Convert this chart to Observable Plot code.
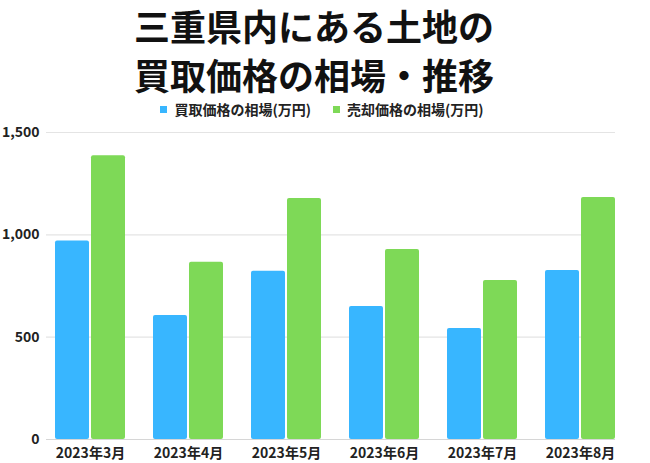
<!DOCTYPE html>
<html>
<head>
<meta charset="utf-8">
<script src="https://cdn.jsdelivr.net/npm/d3@7"></script>
<script src="https://cdn.jsdelivr.net/npm/@observablehq/plot@0.6"></script>
<style>
  body { margin: 0; background: #fff; font-family: "Noto Sans CJK JP", "Noto Sans", sans-serif; }
  #wrap { width: 650px; position: relative; padding-top: 118px; }
  #title { position: absolute; left: 0; top: 1px; width: 650px; padding-right: 22px; box-sizing: border-box; text-align: center; font-size: 36px; font-weight: 700; line-height: 49px; color: #111; white-space: nowrap; }
  #legend { position: absolute; left: 0; top: 99px; height: 20px; width: 650px; padding-right: 6px; box-sizing: border-box; display: flex; justify-content: center; align-items: center; font-size: 14px; font-weight: 700; color: #222; }
  .sw { display: inline-block; width: 7px; height: 7px; margin-right: 7px; }
  .item { display: flex; align-items: center; margin: 0 11px; white-space: nowrap; }
</style>
</head>
<body>
<div id="wrap">
  <div id="title">三重県内にある土地の<br>買取価格の相場・推移</div>
  <div id="legend"></div>
  <div id="chart"></div>
</div>
<script>
const months = ["2023年3月", "2023年4月", "2023年5月", "2023年6月", "2023年7月", "2023年8月"];
const seriesNames = ["買取価格の相場(万円)", "売却価格の相場(万円)"];
const buyValues = [970, 606, 822, 650, 542, 826];
const sellValues = [1386, 866, 1177, 928, 777, 1182];
const yTicks = [0, 500, 1000, 1500];
const colors = ["#38B6FF", "#7ED957"];

const legend = document.getElementById("legend");
seriesNames.forEach((n, i) => {
  const it = document.createElement("span");
  it.className = "item";
  it.innerHTML = `<span class="sw" style="background:${colors[i]}"></span>${n}`;
  legend.appendChild(it);
});

const buyData = months.map((m, i) => ({month: m, value: buyValues[i]}));
const sellData = months.map((m, i) => ({month: m, value: sellValues[i]}));

const chart = Plot.plot({
  width: 650,
  height: 345,
  marginTop: 14,
  marginBottom: 24,
  marginLeft: 46,
  marginRight: 35,
  style: {fontFamily: "'Noto Sans CJK JP', sans-serif", fontSize: "14px", fontWeight: 700, color: "#222", background: "#fff"},
  x: {domain: months, paddingInner: 0.285, paddingOuter: 0.034, align: 1, label: null, tickSize: 0, tickPadding: 9},
  y: {domain: [0, 1500], ticks: yTicks, tickFormat: d3.format(","), label: null, tickSize: 0, tickPadding: 7},
  marks: [
    Plot.ruleY(yTicks.filter(d => d > 0), {stroke: "#e4e4e4", strokeWidth: 1.2}),
    Plot.barY(buyData, {x: "month", y: "value", fill: colors[0], insetRight: 36, rx: 2}),
    Plot.barY(sellData, {x: "month", y: "value", fill: colors[1], insetLeft: 36, rx: 2}),
    Plot.ruleY([0], {stroke: "#d6d6d6", strokeWidth: 1.2})
  ]
});
document.getElementById("chart").appendChild(chart);
</script>
</body>
</html>
